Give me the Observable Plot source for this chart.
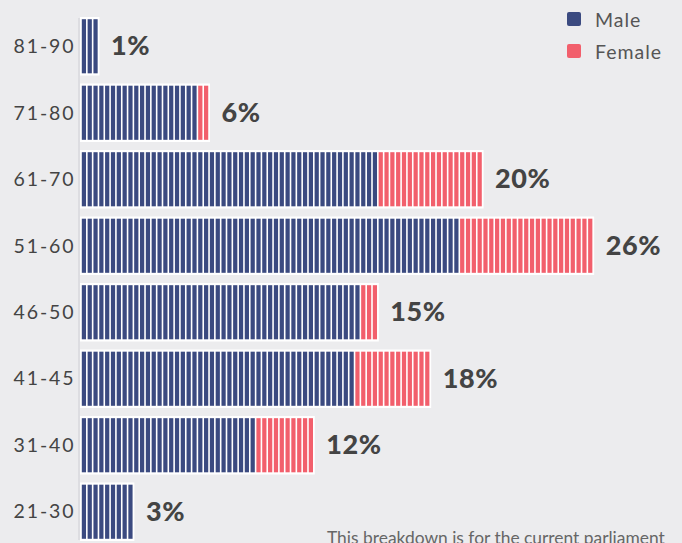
<!DOCTYPE html>
<html>
<head>
<meta charset="utf-8">
<script src="https://cdn.jsdelivr.net/npm/d3@7"></script>
<script src="https://cdn.jsdelivr.net/npm/@observablehq/plot@0.6"></script>
<style>
  html, body { margin: 0; padding: 0; background: #ececee; overflow: hidden; }
  #wrap { position: relative; width: 682px; height: 543px; }
  .legend { position: absolute; left: 0; top: 0; font-family: Lato, "Open Sans", sans-serif; font-size: 19.5px; letter-spacing: 1px; color: #555; }
  .legend .item { position: absolute; left: 567px; white-space: nowrap; display: flex; align-items: center; height: 14px; }
  .legend .sw { width: 14px; height: 14px; border-radius: 2px; margin-right: 14px; }
  .caption { position: absolute; left: 327px; top: 527px; font-family: Lato, "Open Sans", sans-serif; font-size: 17.4px; color: #666; white-space: nowrap; }
  g[aria-label="y-axis tick label"] text { letter-spacing: 1.9px; }
  g[aria-label="text"] text { letter-spacing: 0.6px; }
</style>
</head>
<body>
<div id="wrap">
  <div id="chart"></div>
  <div class="legend">
    <div class="item" style="top:12px"><div class="sw" style="background:#3b4a80"></div>Male</div>
    <div class="item" style="top:44px"><div class="sw" style="background:#f25f6c"></div>Female</div>
  </div>
  <div class="caption">This breakdown is for the current parliament</div>
</div>
<script>
const ageGroups = ["81-90","71-80","61-70","51-60","46-50","41-45","31-40","21-30"];
const male   = [3, 20, 51, 65, 48, 47, 30, 9];
const female = [0, 2, 18, 23, 3, 13, 10, 0];
const pctLabels = ["1%","6%","20%","26%","15%","18%","12%","3%"];
const sexes = ["Male","Female"];
const sexColors = ["#3b4a80","#f25f6c"];

const totals = ageGroups.map((g, i) => ({group: g, total: male[i] + female[i], label: pctLabels[i]}));
const units = [];
ageGroups.forEach((g, i) => {
  for (let k = 0; k < male[i]; k++) units.push({group: g, sex: "Male", i: k});
  for (let k = 0; k < female[i]; k++) units.push({group: g, sex: "Female", i: male[i] + k});
});

const chart = Plot.plot({
  width: 682,
  height: 543,
  marginLeft: 81,
  marginRight: 19,
  marginTop: 18,
  marginBottom: 3,
  style: {background: "transparent", fontFamily: "Lato, 'Open Sans', sans-serif"},
  x: {domain: [0, 100], axis: null},
  y: {domain: ageGroups, paddingInner: 0.15, paddingOuter: 0, round: false, label: null},
  color: {domain: sexes, range: sexColors},
  marks: [
    Plot.ruleX([0], {stroke: "#d9d9dc", strokeWidth: 1.5, dx: -2.5}),
    Plot.rectX(totals, {x1: 0, x2: "total", y: "group", fill: "white", stroke: "white", strokeWidth: 2}),
    Plot.rectX(units, {x1: "i", x2: d => d.i + 1, y: "group", fill: "sex", insetLeft: 0.8, insetRight: 0.8, insetTop: 1.2, insetBottom: 1.2}),
    Plot.text(totals, {x: "total", y: "group", text: "label", dx: 12, textAnchor: "start", fontSize: 27, fontWeight: 900, fill: "#444"}),
    Plot.axisY({tickSize: 0, tickPadding: 6, fontSize: 19.5, fill: "#444", label: null})
  ]
});
document.getElementById("chart").appendChild(chart);
</script>
</body>
</html>
